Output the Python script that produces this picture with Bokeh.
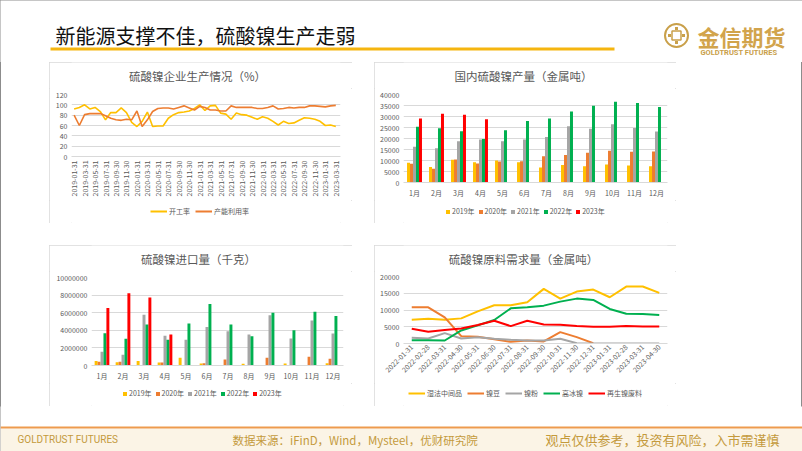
import calendar
from math import pi, nan
from bokeh.plotting import figure
from bokeh.layouts import column, row
from bokeh.models import (Range1d, FactorRange, FixedTicker, Legend, LegendItem,
                          Label, Spacer, BasicTickFormatter, ColumnDataSource)
from bokeh.transform import dodge
from bokeh.embed import file_html
from bokeh.resources import INLINE

FONT = "Noto Sans CJK SC"
GRID = "#D9D9D9"
TXT = "#595959"
YEL, ORG, GRY, GRN, RED = "#FFC000", "#ED7D31", "#A5A5A5", "#00B050", "#FF0000"
GOLD = "#C9A04A"


def month_ends(y, m, n):
    out = []
    for _ in range(n):
        d = calendar.monthrange(y, m)[1]
        out.append(f"{y}-{m:02d}-{d:02d}")
        m += 1
        if m > 12:
            m = 1
            y += 1
    return out


# ---------------- data ----------------
slide_title = "新能源支撑不佳，硫酸镍生产走弱"

c1_title = "硫酸镍企业生产情况（%）"
c1_dates = month_ends(2019, 1, 51)
c1_names = ["开工率", "产能利用率"]
kaigong = [92, 95, 100, 92, 95, 87, 71, 85, 85, 94, 85, 66, 58, 68, 86, 58, 59, 59, 74, 81,
           85, 86, 88, 93, 100, 89, 98, 99, 84, 82, 72, 84, 81, 80, 76, 72, 77, 74, 68, 61,
           68, 64, 65, 70, 75, 74, 72, 68, 60, 61, 58]
channeng = [80, 60, 81, 83, 83, 83, 79, 74, 71, 70, 72, 71, 88, 58, 71, 87, 93, 94, 94, 92,
            95, 98, 94, 90, 97, 95, 90, 90, 88, 88, 98, 95, 95, 95, 95, 93, 93, 95, 98, 92,
            93, 95, 94, 95, 95, 98, 98, 97, 96, 98, 99]
c1_yticks = [0, 20, 40, 60, 80, 100, 120]

months = ["1月", "2月", "3月", "4月", "5月", "6月", "7月", "8月", "9月", "10月", "11月", "12月"]
years = ["2019年", "2020年", "2021年", "2022年", "2023年"]

c2_title = "国内硫酸镍产量（金属吨）"
p2019 = [9000, 7000, 10300, 9200, 10000, 9200, 6800, 7900, 7400, 8200, 7700, 7400]
p2020 = [8500, 6200, 10400, 8600, 9500, 9700, 11900, 12500, 13500, 14400, 14000, 14100]
p2021 = [16200, 15600, 18700, 19500, 18700, 19600, 20700, 25600, 24400, 26500, 24800, 23200]
p2022 = [25300, 24700, 23300, 19800, 23800, 28000, 29100, 32300, 34900, 36700, 36100, 34300]
p2023 = [29100, 31200, 30800, 28800, nan, nan, nan, nan, nan, nan, nan, nan]
c2_yticks = [0, 5000, 10000, 15000, 20000, 25000, 30000, 35000, 40000]

c3_title = "硫酸镍进口量（千克）"
i2019 = [520000, 370000, 520000, 330000, 890000, 220000, 40000, 190000, 70000, 220000, 40000, 260000]
i2020 = [440000, 440000, 50000, 330000, 70000, 260000, 670000, 0, 890000, 40000, 1000000, 780000]
i2021 = [1560000, 1220000, 5780000, 3370000, 2930000, 4370000, 3890000, 3520000, 5700000, 3070000, 5110000, 3630000]
i2022 = [3670000, 3040000, 4670000, 2930000, 4780000, 7000000, 4670000, 3330000, 6000000, 4000000, 6110000, 5630000]
i2023 = [6520000, 8220000, 7740000, 3520000, nan, nan, nan, nan, nan, nan, nan, nan]
c3_yticks = [0, 2000000, 4000000, 6000000, 8000000, 10000000]

c4_title = "硫酸镍原料需求量（金属吨）"
c4_dates = month_ends(2022, 1, 16)
c4_names = ["湿法中间品", "镍豆", "镍粉", "高冰镍", "再生镍废料"]
shifa = [7100, 7400, 7100, 7500, 9600, 11400, 11400, 12300, 16300, 13400, 15500, 16100, 13800, 17000, 17000, 15100]
niedou = [10800, 10800, 7800, 2200, 2000, 1300, 500, 900, 600, 3400, 1900, 100, nan, nan, nan, nan]
niefen = [1700, 1500, 3100, 1500, 1900, 1400, 1100, 900, 900, 1400, 100, 0, 0, 0, 0, 0]
gaobing = [1000, 1000, 900, 3900, 5400, 7000, 10500, 10800, 11300, 12500, 13400, 13000, 10300, 8900, 8800, 8500]
zaisheng = [4400, 3500, 4000, 4500, 5500, 6800, 5200, 6800, 5700, 5600, 5200, 5000, 5000, 5200, 5100, 5100]
c4_yticks = [0, 5000, 10000, 15000, 20000]

footer_left = "GOLDTRUST FUTURES"
footer_mid = "数据来源：iFinD，Wind，Mysteel，优财研究院"
footer_right = "观点仅供参考，投资有风险，入市需谨慎"

BAR_COLORS = [YEL, ORG, GRY, GRN, RED]
LINE4_COLORS = [YEL, ORG, GRY, GRN, RED]


# ---------------- helpers ----------------
def plain(w, h, xr, yr, l=0, r=0):
    f = figure(width=w, height=h, x_range=xr, y_range=yr, output_backend="svg",
               toolbar_location=None, x_axis_type=None, y_axis_type=None,
               min_border_left=l, min_border_right=r, min_border_top=0, min_border_bottom=0,
               title=None)
    f.outline_line_color = None
    f.background_fill_color = "white"
    f.border_fill_color = "white"
    return f


def base(w, h, l, r, t, b, xr, yr):
    p = figure(width=w, height=h, x_range=xr, y_range=yr, output_backend="svg",
               toolbar_location=None, min_border_left=l, min_border_right=r,
               min_border_top=t, min_border_bottom=b, title=None)
    p.outline_line_color = None
    p.background_fill_color = "white"
    p.border_fill_color = "white"
    p.xgrid.grid_line_color = None
    p.ygrid.grid_line_color = GRID
    p.ygrid.grid_line_width = 1
    for ax in (p.xaxis, p.yaxis):
        ax.major_tick_in = 0
        ax.major_tick_out = 0
        ax.minor_tick_line_color = None
        ax.major_label_text_font = FONT
        ax.major_label_text_font_size = "7px"
        ax.major_label_text_color = TXT
    p.yaxis.axis_line_color = None
    p.xaxis.axis_line_color = GRID
    p.yaxis.major_label_standoff = 4
    return p


def title_fig(w, l, r, fl, fr, text, cx):
    # frame spans the chart frame (fl..fr in slide pixels)
    f = plain(w, 26, Range1d(fl, fr), Range1d(26, 0), l, r)
    f.add_layout(Label(x=cx, y=13, text=text, text_align="center", text_baseline="middle",
                       text_font=FONT, text_font_size="11.5px", text_color=TXT))
    return f


def legend_fig(w, h, l, r, kind, labels, colors, loc, gw, gh, spacing):
    f = plain(w, h, Range1d(0, 1), Range1d(0, 1), l, r)
    items = []
    for lab, c in zip(labels, colors):
        if kind == "line":
            rr = f.line(x=[nan, nan], y=[nan, nan], line_color=c, line_width=2)
        else:
            rr = f.vbar(x=[nan], top=[nan], width=0.1, fill_color=c, line_color=None)
        items.append(LegendItem(label=lab, renderers=[rr]))
    f.add_layout(Legend(items=items, location=loc, orientation="horizontal",
                        border_line_color=None, background_fill_alpha=0,
                        padding=0, margin=0, spacing=spacing, label_standoff=2,
                        glyph_width=gw, glyph_height=gh, label_height=8, label_width=10,
                        label_text_font=FONT, label_text_font_size="7px",
                        label_text_color=TXT))
    return f


BOX_STYLE = {"outline": "1px solid #D9D9D9", "outline-offset": "-1px"}


def cell(tf, cf, lf):
    return column(tf, cf, lf, styles=BOX_STYLE)


# ---------------- chart 1 ----------------
p1 = base(303, 112, 22, 12, 6, 44, Range1d(-0.5, 50.9), Range1d(0, 120))
p1.yaxis.ticker = FixedTicker(ticks=c1_yticks)
p1.xaxis.ticker = FixedTicker(ticks=list(range(0, 51, 2)))
p1.xaxis.major_label_overrides = {i: c1_dates[i] for i in range(0, 51, 2)}
p1.xaxis.major_label_orientation = pi / 2
p1.xaxis.major_label_standoff = 4
xs1 = list(range(len(kaigong)))
p1.line(xs1, kaigong, line_color=YEL, line_width=1.6)
p1.line(xs1, channeng, line_color=ORG, line_width=1.6)
cell1 = cell(title_fig(303, 22, 12, 71, 340, c1_title, 197), p1,
             legend_fig(303, 23, 22, 12, "line", c1_names, [YEL, ORG], (79, 7), 17, 8, 5))


# ---------------- bar chart helper ----------------
def bars(p, series, width):
    src = ColumnDataSource(dict(m=months, **{f"s{k}": v for k, v in enumerate(series)}))
    offs = [-2, -1, 0, 1, 2]
    for k in range(5):
        p.vbar(x=dodge("m", offs[k] * width, range=p.x_range), top=f"s{k}", width=width,
               source=src, fill_color=BAR_COLORS[k], line_color=None)


# ---------------- chart 2 ----------------
p2 = base(302, 112, 29, 9, 6, 17, FactorRange(factors=months, range_padding=0), Range1d(0, 40000))
p2.yaxis.ticker = FixedTicker(ticks=c2_yticks)
p2.yaxis.formatter = BasicTickFormatter(use_scientific=False)
p2.xaxis.major_label_standoff = 5
bars(p2, [p2019, p2020, p2021, p2022, p2023], 0.136)
cell2 = cell(title_fig(302, 29, 9, 403, 667, c2_title, 523), p2,
             legend_fig(302, 23, 29, 9, "bar", years, BAR_COLORS, (42, 7), 5, 5, 3))

# ---------------- chart 3 ----------------
p3 = base(303, 112, 42, 9, 6, 17, FactorRange(factors=months, range_padding=0), Range1d(0, 10000000))
p3.yaxis.ticker = FixedTicker(ticks=c3_yticks)
p3.yaxis.formatter = BasicTickFormatter(use_scientific=False)
p3.xaxis.major_label_standoff = 5
bars(p3, [i2019, i2020, i2021, i2022, i2023], 0.14)
cell3 = cell(title_fig(303, 42, 9, 91, 343, c3_title, 198), p3,
             legend_fig(303, 23, 42, 9, "bar", years, BAR_COLORS, (31, 8), 5, 5, 3))

# ---------------- chart 4 ----------------
p4 = base(302, 112, 29, 9, 5, 40, Range1d(-0.5, 15.5), Range1d(0, 20000))
p4.yaxis.ticker = FixedTicker(ticks=c4_yticks)
p4.xaxis.ticker = FixedTicker(ticks=list(range(16)))
p4.xaxis.major_label_overrides = {i: c4_dates[i] for i in range(16)}
p4.xaxis.major_label_orientation = pi / 4
p4.xaxis.major_label_standoff = 2
xs4 = list(range(16))
for ys, c in zip([shifa, niedou, niefen, gaobing, zaisheng], LINE4_COLORS):
    p4.line(xs4, ys, line_color=c, line_width=2)
cell4 = cell(title_fig(302, 29, 9, 403, 667, c4_title, 523), p4,
             legend_fig(302, 23, 29, 9, "line", c4_names, LINE4_COLORS, (5, 8), 17, 8, 5))

# ---------------- header ----------------
hdr = plain(802, 62, Range1d(0, 802), Range1d(62, 0))
hdr.add_layout(Label(x=55, y=35, text=slide_title, text_baseline="middle",
                     text_font=FONT, text_font_size="20px", text_color="#111111"))
hdr.segment(x0=[50], y0=[48.5], x1=[614], y1=[48.5], line_width=3, line_color="#F5B50F")
hdr.scatter(x=[676], y=[35], marker="circle", size=23, fill_color=None, line_color=GOLD, line_width=2)
hdr.scatter(x=[676], y=[35], marker="square", size=9, fill_color=None, line_color=GOLD, line_width=1.5)
hdr.scatter(x=[676, 676, 669, 683], y=[28, 42, 35, 35], marker="square", size=3,
            fill_color=GOLD, line_color=None)
hdr.add_layout(Label(x=697, y=35, text="金信期货", text_baseline="middle",
                     text_font=FONT, text_font_size="22px", text_font_style="bold",
                     text_color="#D2A44C"))
hdr.add_layout(Label(x=700, y=52, text="GOLDTRUST FUTURES", text_baseline="middle",
                     text_font="Roboto", text_font_size="7.5px", text_font_style="bold",
                     text_color="#C9A04A"))

# ---------------- footer ----------------
ftr = plain(802, 45, Range1d(0, 802), Range1d(451, 406))
ftr.quad(left=[0], right=[802], top=[428], bottom=[451], fill_color="#FBF4E6", line_color=None)
ftr.segment(x0=[0], y0=[427], x1=[802], y1=[427], line_width=2, line_color="#EE9B4E")
ftr.add_layout(Label(x=17, y=439, text=footer_left, text_baseline="middle",
                     text_font="Roboto", text_font_size="10px", text_color="#C49A3C"))
ftr.add_layout(Label(x=232, y=439, text=footer_mid, text_baseline="middle",
                     text_font=FONT, text_font_size="11.5px", text_color="#C49A3C"))
ftr.add_layout(Label(x=545, y=439, text=footer_right, text_baseline="middle",
                     text_font=FONT, text_font_size="13px", text_color="#C49A3C"))

row1 = row(Spacer(width=49, height=161), cell1, Spacer(width=22, height=161), cell2,
           Spacer(width=126, height=161))
row2 = row(Spacer(width=49, height=161), cell3, Spacer(width=22, height=161), cell4,
           Spacer(width=126, height=161))
layout = column(hdr, row1, Spacer(width=802, height=22), row2, ftr,
                styles={"outline": "1px solid #8C8C8C", "outline-offset": "-1px"})

open("out.html", "w").write(file_html(layout, INLINE))
